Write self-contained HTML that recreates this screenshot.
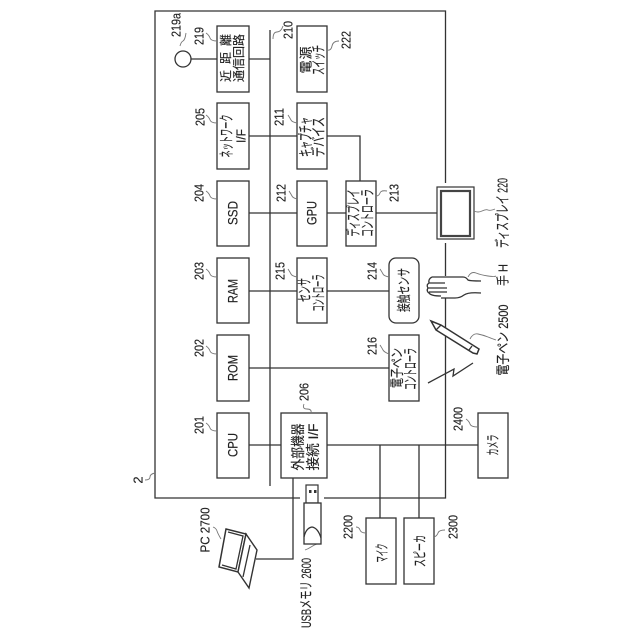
<!DOCTYPE html>
<html><head><meta charset="utf-8"><style>
html,body{margin:0;padding:0;background:#fff}
svg{display:block}
text{font-family:"Liberation Sans","Noto Sans CJK JP",sans-serif;fill:#222;stroke:#222;stroke-width:.15;text-anchor:middle;dominant-baseline:central}
.b rect,.l{fill:#fff;stroke:#333;stroke-width:1.3}
.l{fill:none}
.s{fill:none;stroke:#777;stroke-width:.9}
.n{font-size:13px}
.t{font-size:13.5px}
.c{font-size:15px}
</style></head><body>
<svg width="640" height="640" viewBox="0 0 640 640" xmlns="http://www.w3.org/2000/svg">
<!-- frame -->
<path class="l" d="M300 498H155V11H445.5V183M445.5 243V276M445.5 298V498H324"/>
<!-- connectors -->
<path class="l" d="M270 30V486M191 59H270M249 136H297M327 136H360V181M249 213H297M327 213H346M376 213H437M249 291H389M249 368H389M249 445H281M327 445H478M380 445V518M419 445V518M293 478V559H256"/>
<circle class="l" cx="183" cy="59" r="8"/>
<!-- boxes -->
<g class="b">
<rect x="217" y="26" width="32" height="66"/>
<rect x="217" y="103" width="32" height="66"/>
<rect x="217" y="181" width="32" height="65"/>
<rect x="217" y="258" width="32" height="65"/>
<rect x="217" y="335" width="32" height="66"/>
<rect x="217" y="413" width="32" height="65"/>
<rect x="297" y="26" width="30" height="66"/>
<rect x="297" y="103" width="30" height="66"/>
<rect x="297" y="181" width="30" height="65"/>
<rect x="297" y="258" width="30" height="65"/>
<rect x="346" y="181" width="30" height="65"/>
<rect x="389" y="258" width="30" height="65" rx="7"/>
<rect x="389" y="335" width="30" height="66"/>
<rect x="281" y="413" width="46" height="65"/>
<rect x="478" y="413" width="30" height="65"/>
<rect x="366" y="518" width="30" height="66"/>
<rect x="404" y="518" width="30" height="66"/>
</g>
<!-- display -->
<rect x="437" y="187" width="37" height="52" fill="#fff" stroke="#333" stroke-width="1.2"/>
<rect x="441" y="191" width="29" height="45" fill="#fff" stroke="#444" stroke-width="2.2"/>
<!-- box text -->
<g class="c">
<text transform="translate(226,58) rotate(-90)" font-size="12" textLength="48">近距離</text>
<text transform="translate(239,58) rotate(-90)" font-size="12" textLength="48">通信回路</text>
<text transform="translate(227,136) rotate(-90)" lengthAdjust="spacingAndGlyphs" textLength="43">ネットワーク</text>
<text transform="translate(241,136) rotate(-90)" font-size="13" lengthAdjust="spacingAndGlyphs" textLength="14">I/F</text>
<text transform="translate(233,213) rotate(-90)" class="t" lengthAdjust="spacingAndGlyphs" textLength="24">SSD</text>
<text transform="translate(233,291) rotate(-90)" class="t" lengthAdjust="spacingAndGlyphs" textLength="24">RAM</text>
<text transform="translate(233,368) rotate(-90)" class="t" lengthAdjust="spacingAndGlyphs" textLength="26">ROM</text>
<text transform="translate(233,445) rotate(-90)" class="t" lengthAdjust="spacingAndGlyphs" textLength="24">CPU</text>
<text transform="translate(306,60) rotate(-90)" font-size="13" textLength="27">電源</text>
<text transform="translate(319,60) rotate(-90)" lengthAdjust="spacingAndGlyphs" textLength="30">スイッチ</text>
<text transform="translate(306,137) rotate(-90)" lengthAdjust="spacingAndGlyphs" textLength="40">キャプチャ</text>
<text transform="translate(319,137) rotate(-90)" lengthAdjust="spacingAndGlyphs" textLength="40">デバイス</text>
<text transform="translate(312,213) rotate(-90)" class="t" lengthAdjust="spacingAndGlyphs" textLength="24">GPU</text>
<text transform="translate(305,290) rotate(-90)" lengthAdjust="spacingAndGlyphs" textLength="24">センサ</text>
<text transform="translate(319,293) rotate(-90)" lengthAdjust="spacingAndGlyphs" textLength="37">コントローラ</text>
<text transform="translate(354,213) rotate(-90)" lengthAdjust="spacingAndGlyphs" textLength="47">ディスプレイ</text>
<text transform="translate(368,213) rotate(-90)" lengthAdjust="spacingAndGlyphs" textLength="48">コントローラ</text>
<text transform="translate(404,290) rotate(-90)" font-size="14" lengthAdjust="spacingAndGlyphs" textLength="44">接触センサ</text>
<text transform="translate(397,368) rotate(-90)" font-size="14" lengthAdjust="spacingAndGlyphs" textLength="40">電子ペン</text>
<text transform="translate(411,369) rotate(-90)" lengthAdjust="spacingAndGlyphs" textLength="42">コントローラ</text>
<text transform="translate(298,447) rotate(-90)" font-size="14" lengthAdjust="spacingAndGlyphs" textLength="47">外部機器</text>
<text transform="translate(313,447) rotate(-90)" font-size="14" lengthAdjust="spacingAndGlyphs" textLength="47">接続 I/F</text>
<text transform="translate(493,445) rotate(-90)" font-size="14" lengthAdjust="spacingAndGlyphs" textLength="21">カメラ</text>
<text transform="translate(382,553) rotate(-90)" font-size="14" lengthAdjust="spacingAndGlyphs" textLength="19">マイク</text>
<text transform="translate(420,551) rotate(-90)" font-size="14" lengthAdjust="spacingAndGlyphs" textLength="32">スピーカ</text>
</g>
<!-- reference numerals -->
<g class="n">
<text transform="translate(176,25) rotate(-90)" lengthAdjust="spacingAndGlyphs" textLength="24">219a</text>
<text transform="translate(199,36) rotate(-90)" lengthAdjust="spacingAndGlyphs" textLength="18">219</text>
<text transform="translate(288,30) rotate(-90)" lengthAdjust="spacingAndGlyphs" textLength="18">210</text>
<text transform="translate(346,40) rotate(-90)" lengthAdjust="spacingAndGlyphs" textLength="18">222</text>
<text transform="translate(200,117) rotate(-90)" lengthAdjust="spacingAndGlyphs" textLength="18">205</text>
<text transform="translate(279,117) rotate(-90)" lengthAdjust="spacingAndGlyphs" textLength="18">211</text>
<text transform="translate(199,193) rotate(-90)" lengthAdjust="spacingAndGlyphs" textLength="18">204</text>
<text transform="translate(281,193) rotate(-90)" lengthAdjust="spacingAndGlyphs" textLength="18">212</text>
<text transform="translate(394,193) rotate(-90)" lengthAdjust="spacingAndGlyphs" textLength="18">213</text>
<text transform="translate(199,271) rotate(-90)" lengthAdjust="spacingAndGlyphs" textLength="18">203</text>
<text transform="translate(280,271) rotate(-90)" lengthAdjust="spacingAndGlyphs" textLength="18">215</text>
<text transform="translate(372,271) rotate(-90)" lengthAdjust="spacingAndGlyphs" textLength="18">214</text>
<text transform="translate(199,348) rotate(-90)" lengthAdjust="spacingAndGlyphs" textLength="18">202</text>
<text transform="translate(372,346) rotate(-90)" lengthAdjust="spacingAndGlyphs" textLength="18">216</text>
<text transform="translate(304,392) rotate(-90)" lengthAdjust="spacingAndGlyphs" textLength="18">206</text>
<text transform="translate(199,425) rotate(-90)" lengthAdjust="spacingAndGlyphs" textLength="18">201</text>
<text transform="translate(458,419) rotate(-90)" lengthAdjust="spacingAndGlyphs" textLength="24">2400</text>
<text transform="translate(503,275) rotate(-90)" lengthAdjust="spacingAndGlyphs" textLength="22">手 H</text>
<text transform="translate(503,340) rotate(-90)" font-size="14" lengthAdjust="spacingAndGlyphs" textLength="71">電子ペン 2500</text>
<text transform="translate(503,213) rotate(-90)" font-size="15" lengthAdjust="spacingAndGlyphs" textLength="70">ディスプレイ 220</text>
<text transform="translate(138,480) rotate(-90)">2</text>
<text transform="translate(205,530) rotate(-90)" lengthAdjust="spacingAndGlyphs" textLength="45">PC 2700</text>
<text transform="translate(306,593) rotate(-90)" font-size="14" lengthAdjust="spacingAndGlyphs" textLength="70">USBメモリ 2600</text>
<text transform="translate(348,527) rotate(-90)" lengthAdjust="spacingAndGlyphs" textLength="24">2200</text>
<text transform="translate(453,527) rotate(-90)" lengthAdjust="spacingAndGlyphs" textLength="24">2300</text>
</g>
<!-- leader squiggles -->
<g class="s">
<path d="M180 46q1-4 3-5t3-8"/>
<path d="M206 33q3 2 4 5t7 3"/>
<path d="M273 39q0-7 4-7t6-6"/>
<path d="M327 50q4 1 5-4t7-5"/>
<path d="M206 115q3 2 4 5t7 3"/>
<path d="M288 115q2 3 3 5t6 3"/>
<path d="M206 191q3 2 4 5t7 3"/>
<path d="M289 191q2 3 3 5t5 3"/>
<path d="M376 196q3 0 4-3t7-2"/>
<path d="M206 269q3 2 4 5t7 3"/>
<path d="M288 269q2 3 3 5t6 3"/>
<path d="M380 269q2 3 3 5t6 3"/>
<path d="M206 346q3 2 4 5t7 3"/>
<path d="M380 345q2 3 3 5t6 4"/>
<path d="M304 404q-2 5 3 5t4 4"/>
<path d="M206 423q3 2 4 5t7 3"/>
<path d="M466 419q3 2 4 5t8 3"/>
<path d="M468 277q3-6 8-4t12 3t8 0"/>
<path d="M470 339q3-6 8-5t10 3t8 3"/>
<path d="M474 211q4 2 8 0t6-1t7-1"/>
<path d="M213 527q3 1 4 4t4 8"/>
<path d="M305 550q3-1 6-3t6-3"/>
<path d="M356 527q3 0 4 3t6 3"/>
<path d="M434 537q3-1 4-4t7-3"/>
<path d="M145 480q5 0 5-3t5-4"/>
</g>
<!-- hand -->
<path fill="#fff" stroke="none" d="M427 277H481V298H427z"/>
<path class="l" d="M432 277H463Q466 277 468 280Q470 281 481 281M481 293Q468 292 464 295Q460 298 455 298L441 298M432 277Q428 279 429 283Q426 285 428 288Q426 291 429 293Q431 296 441 296M429 283H445M428 288H447M429 292H447"/>
<!-- pen -->
<path fill="#fff" stroke="#333" stroke-width="1.5" d="M431 321L441 325L479 349L477 354L473 353L436 330Z"/>
<path class="l" d="M441 325L436 330M472 346L469 350"/>
<!-- zigzag -->
<path class="l" d="M428 383L454 369L453 376L473 363"/>
<!-- USB -->
<rect x="300" y="495" width="24" height="5" fill="#fff"/>
<rect x="306" y="485" width="12" height="18" fill="#fff" stroke="#333" stroke-width="1.2"/>
<rect x="309" y="490" width="2.5" height="3" fill="#333"/><rect x="314" y="490" width="2.5" height="3" fill="#333"/>
<rect x="304" y="503" width="17" height="41" fill="#fff" stroke="#333" stroke-width="1.3"/>
<path class="l" d="M304 537Q306 528 312 527Q318 528 321 538"/>
<!-- laptop -->
<path fill="#fff" stroke="#333" stroke-width="1.5" d="M226 529L246 534L238 572L219 567Z"/>
<path class="l" d="M228 532L243 536L236 569L222 565"/>
<path fill="#fff" stroke="#333" stroke-width="1.4" d="M246 534L257 550L249 588L238 572Z"/>
<path class="l" d="M250 545L243 577"/>
</svg>
</body></html>
